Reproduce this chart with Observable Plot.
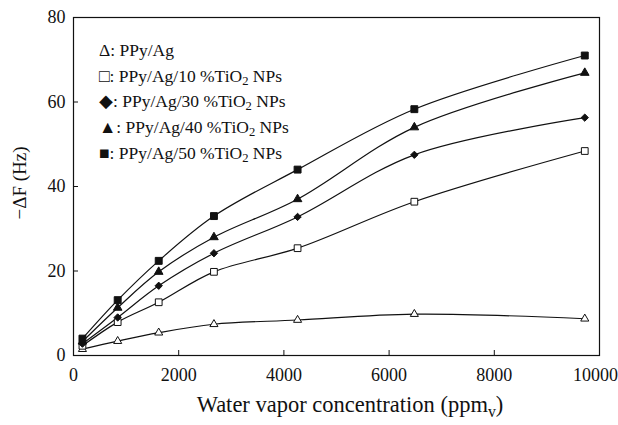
<!DOCTYPE html>
<html>
<head>
<meta charset="utf-8">
<script src="https://cdn.jsdelivr.net/npm/d3@7"></script>
<script src="https://cdn.jsdelivr.net/npm/@observablehq/plot@0.6"></script>
<style>
  html, body { margin: 0; padding: 0; background: #fff; }
  #wrap { position: relative; width: 618px; height: 425px; font-family: "Liberation Serif", "Times New Roman", serif; color: #111; }
  #legend { position: absolute; left: 99px; top: 38px; font-size: 17.5px; line-height: 25.7px; white-space: nowrap; }
  #legend sub { font-size: 0.72em; vertical-align: -0.25em; line-height: 0; }
  #xtitle { position: absolute; left: 0; width: 700px; top: 392px; text-align: center; font-size: 22.5px; white-space: nowrap; }
  #xtitle sub { font-size: 0.7em; vertical-align: -0.3em; line-height: 0; }
  #ytitle { position: absolute; left: 20px; top: 183px; font-size: 19px; white-space: nowrap; transform: translate(-50%, -50%) rotate(-90deg); }
</style>
</head>
<body>
<div id="wrap">
  <div id="chart"></div>
  <div id="legend"></div>
  <div id="xtitle">Water vapor concentration (ppm<sub>v</sub>)</div>
  <div id="ytitle">−ΔF (Hz)</div>
</div>
<script>
// Water vapor concentration (ppm_v)
const xValues = [170, 840, 1620, 2670, 4260, 6480, 9720];
// -ΔF (Hz) per sample
const ppyAg   = [1.5, 3.4, 5.4, 7.4, 8.4, 9.8, 8.7];
const tio10   = [2.3, 7.9, 12.6, 19.8, 25.4, 36.4, 48.4];
const tio30   = [2.8, 9.0, 16.5, 24.2, 32.8, 47.5, 56.3];
const tio40   = [3.3, 11.3, 19.8, 28.0, 37.0, 54.0, 66.9];
const tio50   = [4.0, 13.1, 22.4, 33.0, 44.0, 58.3, 71.0];

const seriesNames = ["PPy/Ag", "PPy/Ag/10 %TiO2 NPs", "PPy/Ag/30 %TiO2 NPs", "PPy/Ag/40 %TiO2 NPs", "PPy/Ag/50 %TiO2 NPs"];
const seriesValues = [ppyAg, tio10, tio30, tio40, tio50];
const legendMarks = ["Δ", "□", "◆", "▲", "■"];
const legendHtml = [
  "PPy/Ag",
  "PPy/Ag/10 %TiO<sub>2</sub> NPs",
  "PPy/Ag/30 %TiO<sub>2</sub> NPs",
  "PPy/Ag/40 %TiO<sub>2</sub> NPs",
  "PPy/Ag/50 %TiO<sub>2</sub> NPs"
];

const xTicks = [0, 2000, 4000, 6000, 8000, 10000];
const yTicks = [0, 20, 40, 60, 80];

const symbols = ["triangle", "square", "diamond2", "triangle", "square"];
const fills = ["white", "white", "#111", "#111", "#111"];
const radii = [3.0, 3.8, 3.3, 3.2, 3.9];

const rows = [];
seriesNames.forEach((name, i) => {
  xValues.forEach((x, j) => rows.push({series: name, idx: i, x, y: seriesValues[i][j]}));
});

const dotMarks = seriesNames.map((name, i) =>
  Plot.dot(rows.filter(d => d.idx === i), {
    x: "x", y: "y", symbol: () => symbols[i], r: radii[i],
    fill: fills[i], stroke: "#111", strokeWidth: 1
  })
);

const chart = Plot.plot({
  width: 618,
  height: 425,
  marginLeft: 73,
  marginRight: 19,
  marginTop: 17,
  marginBottom: 70,
  style: { fontFamily: "'Liberation Serif', 'Times New Roman', serif", fontSize: "18px", color: "#111", background: "white" },
  x: { domain: [0, 10000] },
  y: { domain: [0, 80] },
  symbol: { type: "identity" },
  marks: [
    Plot.tickX(xTicks.slice(1, -1), { x: d => d, insetTop: 333, stroke: "#111" }),
    Plot.tickY(yTicks.slice(1, -1), { y: d => d, insetRight: 521, stroke: "#111" }),
    Plot.line(rows, { x: "x", y: "y", z: "series", curve: "catmull-rom", stroke: "#111", strokeWidth: 1.2 }),
    ...dotMarks,
    Plot.axisX({ ticks: xTicks.slice(0, -1), tickSize: 0, tickPadding: 13, tickFormat: d => String(d), label: null }),
    Plot.axisX({ ticks: xTicks.slice(-1), tickSize: 0, tickPadding: 13, dx: -4, tickFormat: d => String(d), label: null }),
    Plot.axisY({ ticks: yTicks, tickSize: 0, tickPadding: 8, tickFormat: d => String(d), label: null }),
    Plot.frame({ stroke: "#111", strokeWidth: 1.2 })
  ]
});
document.getElementById("chart").appendChild(chart);

const legend = document.getElementById("legend");
legendMarks.forEach((m, i) => {
  const div = document.createElement("div");
  div.innerHTML = m + ": " + legendHtml[i];
  legend.appendChild(div);
});
</script>
</body>
</html>
